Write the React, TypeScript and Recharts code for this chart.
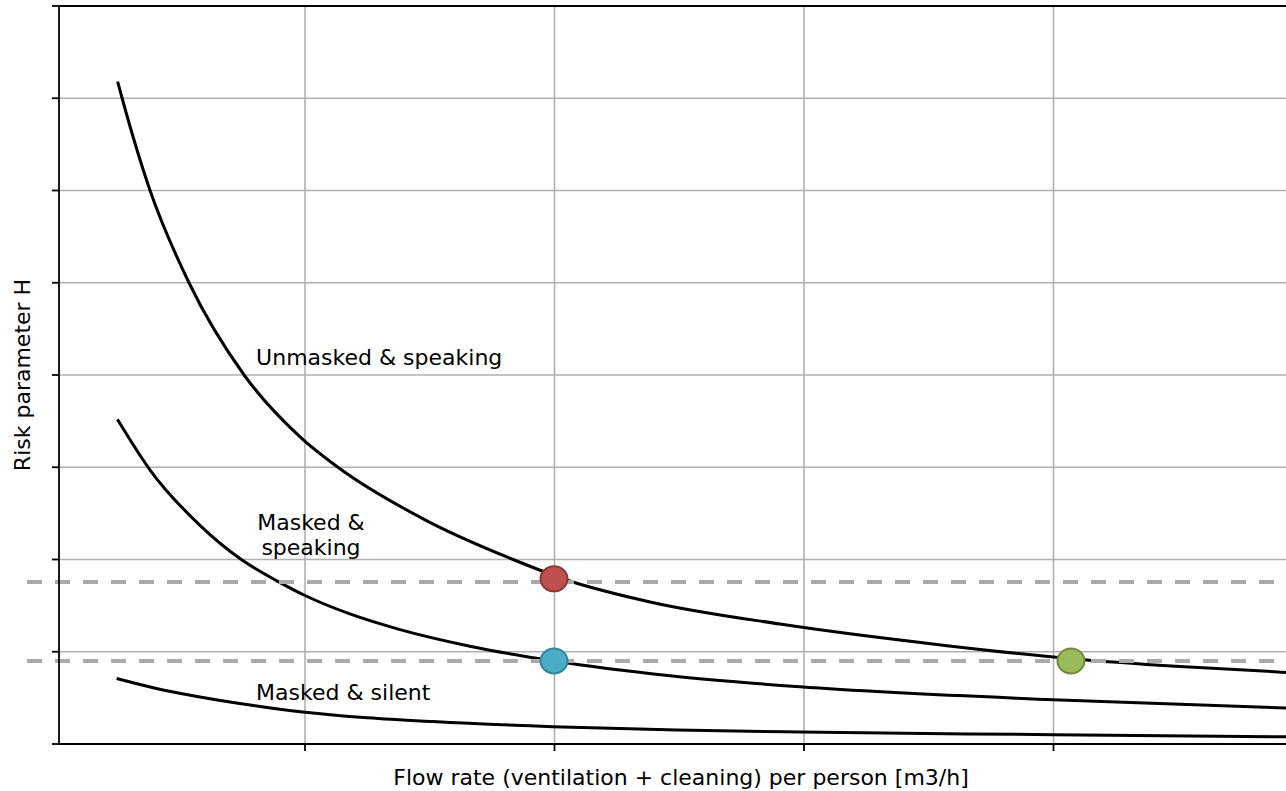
import React from "react";
import {
  ComposedChart,
  Line,
  XAxis,
  YAxis,
  CartesianGrid,
  ReferenceLine,
  ReferenceDot,
} from "recharts";

const xTicks = [10, 20, 30, 40];
const yTicks = [0, 1, 2, 3, 4, 5, 6, 7, 8];
const yGrid = [1, 2, 3, 4, 5, 6, 7];

const unmaskedSpeaking = [
  { x: 2.49, y: 7.18 },
  { x: 2.67, y: 7.0 },
  { x: 3.79, y: 6.0 },
  { x: 5.35, y: 5.0 },
  { x: 7.56, y: 4.0 },
  { x: 9.8, y: 3.33 },
  { x: 11.32, y: 3.0 },
  { x: 14.81, y: 2.43 },
  { x: 18.34, y: 2.0 },
  { x: 20.58, y: 1.77 },
  { x: 23.83, y: 1.54 },
  { x: 29.04, y: 1.3 },
  { x: 35.73, y: 1.066 },
  { x: 40.7, y: 0.925 },
  { x: 45.07, y: 0.84 },
  { x: 49.4, y: 0.775 },
];

const maskedSpeaking = [
  { x: 2.48, y: 3.52 },
  { x: 3.79, y: 2.97 },
  { x: 5.79, y: 2.37 },
  { x: 7.39, y: 2.01 },
  { x: 9.0, y: 1.75 },
  { x: 10.0, y: 1.61 },
  { x: 11.8, y: 1.41 },
  { x: 13.81, y: 1.24 },
  { x: 16.61, y: 1.06 },
  { x: 19.98, y: 0.9 },
  { x: 24.63, y: 0.74 },
  { x: 29.84, y: 0.62 },
  { x: 39.98, y: 0.48 },
  { x: 49.4, y: 0.39 },
];

const maskedSilent = [
  { x: 2.45, y: 0.71 },
  { x: 4.0, y: 0.605 },
  { x: 5.79, y: 0.51 },
  { x: 8.0, y: 0.415 },
  { x: 10.0, y: 0.345 },
  { x: 12.5, y: 0.285 },
  { x: 15.13, y: 0.243 },
  { x: 19.94, y: 0.188 },
  { x: 24.9, y: 0.152 },
  { x: 29.84, y: 0.13 },
  { x: 39.98, y: 0.101 },
  { x: 49.4, y: 0.078 },
];

const thresholds = [1.756, 0.9];

const markers = [
  { x: 19.98, y: 1.79, fill: "#c0504d", stroke: "#8c3836" },
  { x: 19.98, y: 0.9, fill: "#4bacc6", stroke: "#31859c" },
  { x: 40.7, y: 0.9, fill: "#9bbb59", stroke: "#71893f" },
];

const FONT = "DejaVu Sans";
const FS = 22;

const DashedThreshold = (props: any) => (
  <line
    x1={props.x1 - 32}
    y1={props.y1}
    x2={props.x2}
    y2={props.y2}
    stroke="#aaaaaa"
    strokeWidth={4}
    strokeDasharray="15 13"
  />
);

const Marker = (fill: string, stroke: string) => (props: any) => (
  <ellipse cx={props.cx} cy={props.cy} rx={13.5} ry={12.5} fill={fill} stroke={stroke} strokeWidth={2} />
);

const TextAt = (lines: string[], anchor: "start" | "middle") => (props: any) => (
  <text
    x={props.cx}
    y={props.cy}
    fontFamily={FONT}
    fontSize={FS}
    fill="#000"
    textAnchor={anchor}
    dominantBaseline="central"
  >
    {lines.map((l, i) => (
      <tspan key={i} x={props.cx} dy={i === 0 ? 0 : 25}>
        {l}
      </tspan>
    ))}
  </text>
);

const NoTick = () => <g />;

export default function App() {
  return (
    <div style={{ position: "absolute", left: 0, top: 0, width: 1286, height: 791, overflow: "hidden", background: "#fff" }}>
      <ComposedChart width={1302} height={791} margin={{ top: 6, right: 0, bottom: 0, left: 58 }}>
        <CartesianGrid
          stroke="#b0b0b0"
          strokeWidth={1.6}
          horizontalValues={yGrid}
          verticalValues={xTicks}
        />
        <XAxis
          type="number"
          dataKey="x"
          domain={[0.14, 49.96]}
          ticks={xTicks}
          allowDataOverflow
          tick={NoTick}
          tickSize={7}
          height={47}
          stroke="#000"
          strokeWidth={1.8}
          label={() => (
            <text
              x={681}
              y={777}
              textAnchor="middle"
              dominantBaseline="central"
              fontFamily={FONT}
              fontSize={FS}
            >
              Flow rate (ventilation + cleaning) per person [m3/h]
            </text>
          )}
        />
        <YAxis
          type="number"
          domain={[0, 8]}
          ticks={yTicks}
          allowDataOverflow
          tick={NoTick}
          tickSize={7}
          width={1}
          stroke="#000"
          strokeWidth={1.8}
          label={() => (
            <text
              x={22}
              y={375}
              transform="rotate(-90 22 375)"
              textAnchor="middle"
              dominantBaseline="central"
              fontFamily={FONT}
              fontSize={FS}
            >
              Risk parameter H
            </text>
          )}
        />
        <ReferenceLine y={8} stroke="#000" strokeWidth={1.8} />
        <Line data={unmaskedSpeaking} dataKey="y" type="monotone" stroke="#000" strokeWidth={3} dot={false} isAnimationActive={false} />
        <Line data={maskedSpeaking} dataKey="y" type="monotone" stroke="#000" strokeWidth={3} dot={false} isAnimationActive={false} />
        <Line data={maskedSilent} dataKey="y" type="monotone" stroke="#000" strokeWidth={3} dot={false} isAnimationActive={false} />
        {thresholds.map((t) => (
          <ReferenceLine key={t} y={t} shape={DashedThreshold} />
        ))}
        {markers.map((m, i) => (
          <ReferenceDot key={i} x={m.x} y={m.y} r={13} shape={Marker(m.fill, m.stroke)} />
        ))}
        <ReferenceDot x={8.04} y={4.2} r={0} shape={TextAt(["Unmasked & speaking"], "start")} />
        <ReferenceDot x={10.24} y={2.41} r={0} shape={TextAt(["Masked &", "speaking"], "middle")} />
        <ReferenceDot x={8.04} y={0.564} r={0} shape={TextAt(["Masked & silent"], "start")} />
      </ComposedChart>
    </div>
  );
}
